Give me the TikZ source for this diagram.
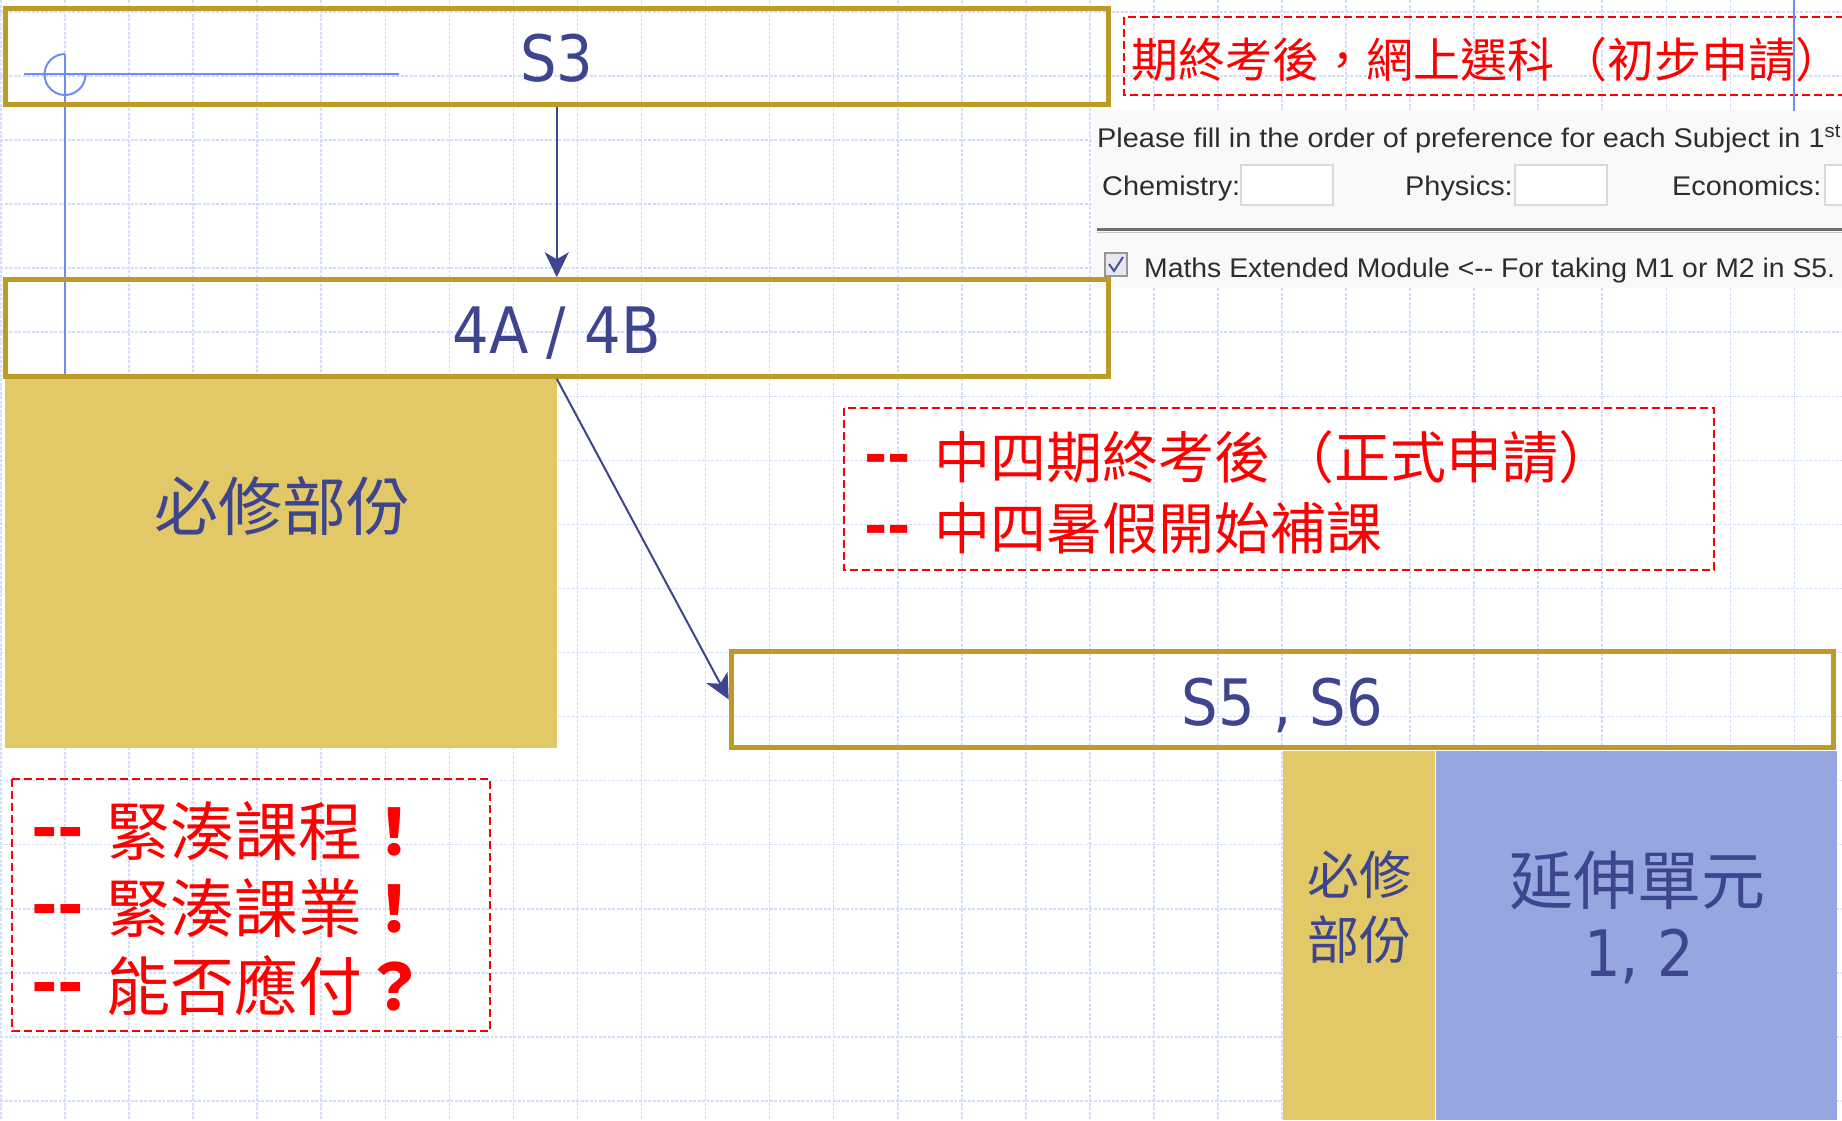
\documentclass[tikz,border=0pt]{standalone}
\usepackage{fontspec}
\usetikzlibrary{arrows.meta}
\newfontfamily\cjk{Noto Sans CJK TC}[Kerning=Off]
\newfontfamily\tah{DejaVu Sans}[FakeStretch=0.9]
\newfontfamily\dashf{DejaVu Sans}
\newfontfamily\arial{Liberation Sans}[FakeStretch=1.07]
\newfontfamily\arialn{Liberation Sans}[FakeStretch=1.05]
\newcommand\lpar{\hspace{0.14em}（}
\definecolor{gridc}{RGB}{212,222,250}
\definecolor{goldc}{RGB}{188,155,38}
\definecolor{yellowc}{RGB}{226,200,102}
\definecolor{bluec}{RGB}{150,166,222}
\definecolor{navyc}{RGB}{62,69,143}
\definecolor{guidec}{RGB}{110,140,245}
\definecolor{shotbg}{RGB}{249,249,249}
\definecolor{shottext}{RGB}{45,45,45}
\definecolor{inboxc}{RGB}{218,218,218}
\begin{document}
\begin{tikzpicture}[x=1pt,y=-1pt,
  gridline/.style={draw=gridc, line width=1.6pt, dash pattern=on 3pt off 1.5pt},
  goldbox/.style={draw=goldc, line width=5pt, minimum width=1102.5pt, minimum height=96.5pt,
    inner sep=0pt, text height=51pt, text depth=0pt, text=navyc,
    font={\tah\fontsize{64pt}{72pt}\selectfont}},
  reddash/.style={draw=red, line width=2pt, dash pattern=on 8pt off 4pt},
  conn/.style={draw=navyc, line width=2pt, -{Stealth[length=25pt,width=24pt,inset=7pt]}},
  guide/.style={draw=guidec, line width=2pt},
  redtxt/.style={text=red, inner sep=0pt, anchor=west},
  cjkblue/.style={text=navyc, inner sep=0pt, anchor=center},
  formtxt/.style={text=shottext, inner sep=0pt, anchor=base west, font={\arial\fontsize{27pt}{30pt}\selectfont}},
  inbox/.style={draw=inboxc, fill=white, line width=1.5pt}
]
\useasboundingbox (0,0) rectangle (1842,1120);
\fill[white] (0,0) rectangle (1842,1120);
\begin{scope}
\clip (0,0) rectangle (1842,1120);
% background grid
\foreach \k in {0,...,28} \draw[gridline] ({1+64.05*\k},0) -- ({1+64.05*\k},1120);
\foreach \k in {0,...,17} \draw[gridline] (0,{12+64.05*\k}) -- (1842,{12+64.05*\k});

% screenshot of the online form
\begin{scope}
\clip (1093,110) rectangle (1842,288);
\fill[shotbg] (1093,110) rectangle (1842,288);
\node[formtxt] (please) at (1097,147) {Please fill in the order of preference for each Subject in 1\textsuperscript{st}};
\node[formtxt] (chem) at (1102,195) {Chemistry:};
\draw[inbox] (1241,165) rectangle (1333,205);
\node[formtxt] (phys) at (1405,195) {Physics:};
\draw[inbox] (1515,165) rectangle (1607,205);
\node[formtxt] (econ) at (1672,195) {Economics:};
\draw[inbox] (1825,165) rectangle (1880,205);
\draw[line width=3pt, draw={rgb,255:red,110;green,110;blue,110}] (1097,229) -- (1842,229);
\draw[line width=1pt, draw={rgb,255:red,200;green,200;blue,200}] (1097,232) -- (1842,232);
\draw[line width=1.5pt, draw={rgb,255:red,150;green,150;blue,150}, fill={rgb,255:red,232;green,232;blue,238}] (1105,253) rectangle (1127,276);
\draw[line width=2pt, draw={rgb,255:red,70;green,80;blue,170}] (1109,264) -- (1114,271) -- (1123,257);
\node[formtxt, font={\arialn\fontsize{27pt}{30pt}\selectfont}] (maths) at (1144,277) {Maths Extended Module <-{}- For taking M1 or M2 in S5.};
\end{scope}

% red dashed note, top right
\draw[reddash] (1124,17) rectangle (1880,95);
\node[redtxt, font={\cjk\fontsize{47pt}{56pt}\selectfont}] (note1) at (1131,59.5) {期終考後，網上選科\lpar 初步申請）};
\draw[guide] (1794,0) -- (1794,111);

% filled blocks
\fill[yellowc] (5,378) rectangle (557,748);
\node[cjkblue, font={\cjk\fontsize{64pt}{72pt}\selectfont}] (req1) at (282,506) {必修部份};
\fill[yellowc] (1283,751) rectangle (1435,1120);
\fill[bluec] (1436,751) rectangle (1837,1120);
\node[cjkblue, font={\cjk\fontsize{52pt}{60pt}\selectfont}] (req2a) at (1359,875) {必修};
\node[cjkblue, font={\cjk\fontsize{52pt}{60pt}\selectfont}] (req2b) at (1359,940) {部份};
\node[cjkblue, font={\cjk\fontsize{64pt}{72pt}\selectfont}] (ext) at (1637,880) {延伸單元};
\node[text=navyc, inner sep=0pt, anchor=base, font={\tah\fontsize{64pt}{72pt}\selectfont}] (ext12) at (1639,976) {1, 2};

% crosshair guide
\draw[guide] (24,74) -- (399,74);
\draw[guide] (65,54) -- (65,375);
\draw[guide] (65,54) arc[start angle=90, end angle=360, radius=20.5pt];

% level boxes
\node[goldbox] (s3) at (556.75,56.25) {S3};
\node[goldbox] (ab) at (556.75,328) {4A / 4B};
\node[goldbox] (s56) at (1282.5,699.5) {S5 , S6};

% connectors
\draw[conn] (s3.south) -- (ab.north);
\draw[conn] (ab.south) -- (s56.west);

% red dashed note, middle
\draw[reddash] (844,408) rectangle (1714,570);
\node[redtxt, font={\cjk\fontsize{56pt}{64pt}\selectfont}] (mid1) at (864,457.5) {\raisebox{4pt}{\dashf\bfseries -{}-}\hspace{24pt}中四期終考後\lpar 正式申請）};
\node[redtxt, font={\cjk\fontsize{56pt}{64pt}\selectfont}] (mid2) at (864,528.5) {\raisebox{4pt}{\dashf\bfseries -{}-}\hspace{24pt}中四暑假開始補課};

% red dashed note, bottom left
\draw[reddash] (12,779) rectangle (490,1031);
\node[redtxt, font={\cjk\fontsize{64pt}{72pt}\selectfont}] (bl1) at (31,831.5) {\raisebox{5pt}{\dashf\bfseries -{}-}\hspace{22pt}緊湊課程{\bfseries ！}};
\node[redtxt, font={\cjk\fontsize{64pt}{72pt}\selectfont}] (bl2) at (31,908.5) {\raisebox{5pt}{\dashf\bfseries -{}-}\hspace{22pt}緊湊課業{\bfseries ！}};
\node[redtxt, font={\cjk\fontsize{64pt}{72pt}\selectfont}] (bl3) at (31,986) {\raisebox{5pt}{\dashf\bfseries -{}-}\hspace{22pt}能否應付{\bfseries ？}};
\end{scope}
\end{tikzpicture}
\end{document}
